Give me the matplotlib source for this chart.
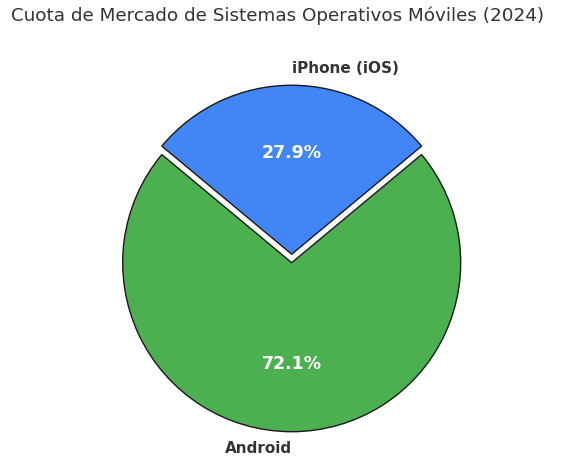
import matplotlib
matplotlib.use("Agg")
import matplotlib.pyplot as plt

labels = ["iPhone (iOS)", "Android"]
shares = [27.9, 72.1]
colors = ["#4285F4", "#4CAF50"]
explode = [0.05, 0.0]

W, H = 577, 471
fig = plt.figure(figsize=(W / 100, H / 100), dpi=100, facecolor="white")

# pie centre and radius in pixels (measured from reference)
cx, cy, r = 291.7, H - 262.7, 169.0
lim = 1.25
side = 2 * lim * r
ax = fig.add_axes([(cx - side / 2) / W, (cy - side / 2) / H, side / W, side / H])

start = 90 - shares[0] / 100 * 360 / 2
wedges, texts, autotexts = ax.pie(
    shares, labels=labels, colors=colors, explode=explode,
    autopct="%1.1f%%", startangle=start,
    wedgeprops=dict(edgecolor="#1a1a1a", linewidth=1.0),
    textprops=dict(fontsize=11, fontweight="bold", color="#333333"),
)
texts[0].set_ha("left")
texts[1].set_ha("right")
for t in autotexts:
    t.set_color("white")
    t.set_fontsize(12.5)
    t.set_fontweight("bold")

ax.set_xlim(-lim, lim)
ax.set_ylim(-lim, lim)
ax.set_aspect("equal")
ax.axis("off")

fig.text(278 / W, (H - 16) / H, "Cuota de Mercado de Sistemas Operativos Móviles (2024)",
         ha="center", va="center", fontsize=13.2, color="#333333")

fig.savefig("out.png", dpi=100)
